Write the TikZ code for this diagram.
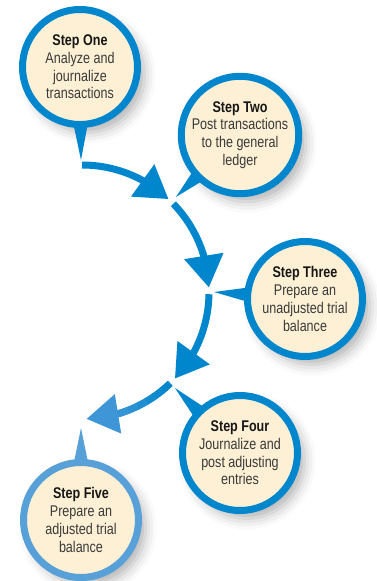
\documentclass[tikz,border=0pt]{standalone}
\usepackage{fontspec}
\setmainfont{Liberation Sans}[FakeStretch=0.81]
\usetikzlibrary{arrows.meta,bending,calc,shadows.blur}
\definecolor{ringblue}{RGB}{0,134,204}
\definecolor{ringlight}{RGB}{88,160,216}
\definecolor{tipblue}{RGB}{62,150,214}
\definecolor{cream}{RGB}{253,240,212}
\definecolor{bodygray}{RGB}{58,58,58}
\definecolor{titleblack}{RGB}{22,22,22}
\tikzset{
  stepcircle/.style={circle, minimum size=115pt, inner sep=0pt, line width=7pt,
    draw=ringblue, fill=cream, align=center,
    font=\fontsize{15.5}{17.7}\selectfont, text=bodygray,
    blur shadow={shadow xshift=7pt, shadow yshift=-8pt, shadow blur radius=11pt, shadow opacity=30}},
  tailshape/.style={fill=ringblue},
  cyclearrow/.style={draw=ringblue, line width=7pt, -{Triangle[length=32pt,width=38pt,flex]}},
}
\newcommand{\sttl}[1]{{\color{titleblack}\textbf{#1}}}
\begin{document}
\begin{tikzpicture}[x=1pt,y=1pt]
\useasboundingbox (0,0) rectangle (377,-581);
\coordinate (C) at (82,-292);
% circles
\node[stepcircle] (s1) at (80,-67) {\sttl{Step One}\\Analyze and\\journalize\\transactions};
\node[stepcircle] (s2) at (240,-135) {\sttl{Step Two}\\Post transactions\\to the general\\ledger};
\node[stepcircle] (s3) at (305,-299) {\sttl{Step Three}\\Prepare an\\unadjusted trial\\balance};
\node[stepcircle] (s4) at (240,-453) {\sttl{Step Four}\\Journalize and\\post adjusting\\entries};
\node[stepcircle, draw=ringlight] (s5) at (81,-520) {\sttl{Step Five}\\Prepare an\\adjusted trial\\balance};
% tail tips
\coordinate (t1) at (81,-160);
\coordinate (t2) at (176,-197);
\coordinate (t3) at (214,-292);
\coordinate (t4) at (175,-388);
\coordinate (t5) at (81,-428);
\foreach \s/\t/\c in {s1/t1/ringblue, s2/t2/ringblue, s3/t3/ringblue, s4/t4/ringblue, s5/t5/ringlight}{
  \fill[tailshape, fill=\c] let \p1 = ($(\t)-(\s.center)$), \n1 = {atan2(\y1,\x1)} in
    ($(\s.center)+(\n1+7:58pt)$) -- (\t) -- ($(\s.center)+(\n1-7:58pt)$) -- cycle;
}
% cycle arrows
\draw[cyclearrow] ($(C)+(90:127)$) arc[start angle=90, end angle=47, radius=127];
\draw[cyclearrow] ($(C)+(44:127)$) arc[start angle=44, end angle=2, radius=127];
\draw[cyclearrow] ($(C)+(-1:127)$) arc[start angle=-1, end angle=-43, radius=127];
\draw[cyclearrow, draw=tipblue] ($(C)+(-46:127)$) arc[start angle=-46, end angle=-88, radius=127];
\foreach \i in {0,...,5}{
  \pgfmathsetmacro{\a}{-46-\i*4.5}
  \pgfmathsetmacro{\b}{-46-(\i+1)*4.5-0.6}
  \pgfmathsetmacro{\m}{\i*17}
  \draw[tipblue!\m!ringblue, line width=7pt] ($(C)+(\a:127)$) arc[start angle=\a, end angle=\b, radius=127];
}
\end{tikzpicture}
\end{document}
